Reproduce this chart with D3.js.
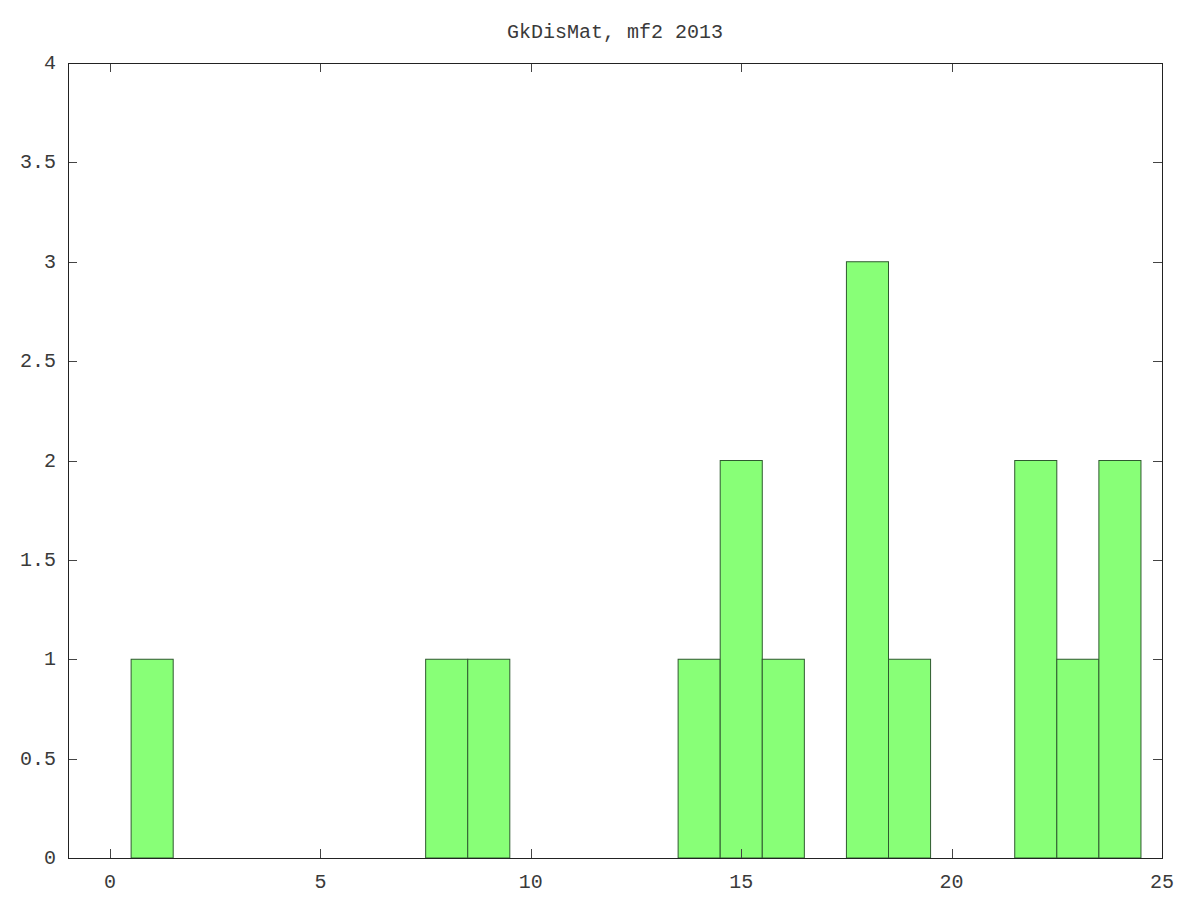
<!DOCTYPE html>
<html>
<head>
<meta charset="utf-8">
<script src="https://cdn.jsdelivr.net/npm/d3@7"></script>
<style>
  body { margin: 0; background: #fff; }
  text { font-family: "Liberation Mono", "DejaVu Sans Mono", monospace; font-size: 20px; fill: #3a3a3a; }
</style>
</head>
<body>
<svg width="1200" height="900"></svg>
<script>
var width = 1200;
var height = 900;

// histogram data: bin centre and count
var bins = [1, 8, 9, 14, 15, 16, 18, 19, 22, 23, 24];
var counts = [1, 1, 1, 1, 2, 1, 3, 1, 2, 1, 2];
var xTicks = [0, 5, 10, 15, 20, 25];
var yTicks = [0, 0.5, 1, 1.5, 2, 2.5, 3, 3.5, 4];
var title = "GkDisMat, mf2 2013";

var padding = { t: 63, r: 38, b: 42, l: 68 };
var svg = d3.select('svg');

var xScale = d3.scaleLinear().domain([-1, 25]).range([padding.l, width - padding.r]);
var yScale = d3.scaleLinear().domain([0, 4]).range([height - padding.b, padding.t]);

var x0 = xScale.range()[0], x1 = xScale.range()[1];
var y0 = yScale.range()[0], y1 = yScale.range()[1];
var tick = 9;

// bars
svg.selectAll('.bar')
    .data(bins)
    .enter()
    .append('rect')
    .attr('class', 'bar')
    .attr('x', d => xScale(d - 0.5))
    .attr('y', (d, i) => yScale(counts[i]))
    .attr('width', d => xScale(d + 0.5) - xScale(d - 0.5))
    .attr('height', (d, i) => yScale(0) - yScale(counts[i]))
    .attr('fill', '#88ff77')
    .attr('stroke', '#2f5a2f')
    .attr('stroke-width', 1);

// ticks on all four sides, pointing in
var g = svg.append('g').attr('stroke', '#444').attr('stroke-width', 1);
xTicks.forEach(function (t) {
    var x = Math.round(xScale(t)) + 0.5;
    g.append('line').attr('x1', x).attr('x2', x).attr('y1', y0).attr('y2', y0 - tick);
    g.append('line').attr('x1', x).attr('x2', x).attr('y1', y1).attr('y2', y1 + tick);
});
yTicks.forEach(function (t) {
    var y = Math.round(yScale(t)) + 0.5;
    g.append('line').attr('x1', x0).attr('x2', x0 + tick).attr('y1', y).attr('y2', y);
    g.append('line').attr('x1', x1).attr('x2', x1 - tick).attr('y1', y).attr('y2', y);
});

// frame
svg.append('rect')
    .attr('x', x0 + 0.5)
    .attr('y', y1 + 0.5)
    .attr('width', x1 - x0)
    .attr('height', y0 - y1)
    .attr('fill', 'none')
    .attr('stroke', '#222')
    .attr('stroke-width', 1);

// labels
svg.selectAll('.xlab')
    .data(xTicks)
    .enter()
    .append('text')
    .attr('x', d => xScale(d))
    .attr('y', y0 + 30)
    .attr('text-anchor', 'middle')
    .text(d => d);

svg.selectAll('.ylab')
    .data(yTicks)
    .enter()
    .append('text')
    .attr('x', x0 - 12)
    .attr('y', d => yScale(d) + 6)
    .attr('text-anchor', 'end')
    .text(d => d);

svg.append('text')
    .attr('x', (x0 + x1) / 2)
    .attr('y', 38)
    .attr('text-anchor', 'middle')
    .text(title);
</script>
</body>
</html>
